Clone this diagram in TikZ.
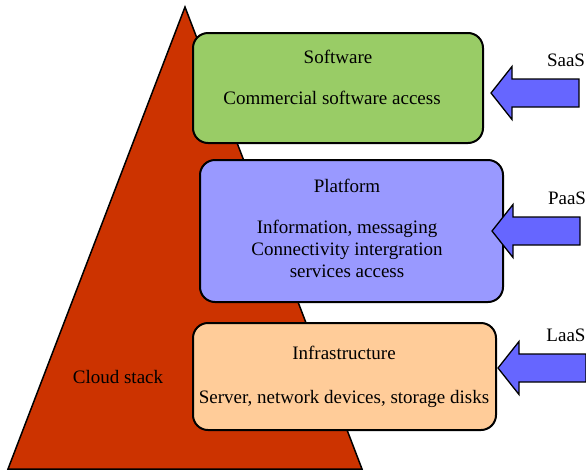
\documentclass[tikz,border=0pt]{standalone}
\usepackage{fontspec}
\setmainfont{Liberation Serif}
\definecolor{stackred}{HTML}{CC3300}
\definecolor{swgreen}{HTML}{99CC66}
\definecolor{pfviolet}{HTML}{9999FF}
\definecolor{infpeach}{HTML}{FFCC99}
\definecolor{arrowblue}{HTML}{6666FF}
\begin{document}
\begin{tikzpicture}[x=1pt,y=-1pt,
  font=\fontsize{19}{22}\selectfont,
  stack/.style={fill=stackred,draw=black,line width=1.5pt,line join=miter},
  layer/.style={draw=black,line width=2pt,rounded corners=15pt,inner sep=0pt},
  txt/.style={anchor=base,inner sep=0pt},
  bigarrow/.style={fill=arrowblue,draw=black,line width=1.3pt,line join=miter}]
\useasboundingbox (0,0) rectangle (586,472);

% the stack itself
\draw[stack] (8,469) -- (185,7) -- (362,469) -- cycle;
\node[txt] (stacklbl) at (118,383) {Cloud stack};

% the three service layers
\node[layer,fill=swgreen,minimum width=290pt,minimum height=110pt] (sw) at (338,88) {};
\node[txt] (swtitle) at (338,63) {Software};
\node[txt] (swbody) at (332,104) {Commercial software access};

\node[layer,fill=pfviolet,minimum width=303pt,minimum height=142pt] (pf) at (351.5,231) {};
\node[txt] (pftitle) at (347,192) {Platform};
\node[txt] (pfl1) at (347,233) {Information, messaging};
\node[txt] (pfl2) at (347,255) {Connectivity intergration};
\node[txt] (pfl3) at (347,277) {services access};

\node[layer,fill=infpeach,minimum width=303pt,minimum height=107pt] (inf) at (344.5,376.5) {};
\node[txt] (inftitle) at (344,359) {Infrastructure};
\node[txt] (infbody) at (344,403) {Server, network devices, storage disks};

% delivery models pointing at their layers
\coordinate (saastip) at (491,93);
\coordinate (paastip) at (492,231);
\coordinate (laastip) at (498,368);
\draw[bigarrow] (saastip) -- ++(21,-26.5) -- ++(0,12.5) -- ++(67,0) -- ++(0,28)
  -- ++(-67,0) -- ++(0,12.5) -- cycle;
\draw[bigarrow] (paastip) -- ++(21,-26.5) -- ++(0,12.5) -- ++(67,0) -- ++(0,28)
  -- ++(-67,0) -- ++(0,12.5) -- cycle;
\draw[bigarrow] (laastip) -- ++(21,-26.5) -- ++(0,12.5) -- ++(67,0) -- ++(0,28)
  -- ++(-67,0) -- ++(0,12.5) -- cycle;
\node[txt] (saas) at (566,66) {SaaS};
\node[txt] (paas) at (567,204) {PaaS};
\node[txt] (laas) at (566,341) {LaaS};
\end{tikzpicture}
\end{document}
